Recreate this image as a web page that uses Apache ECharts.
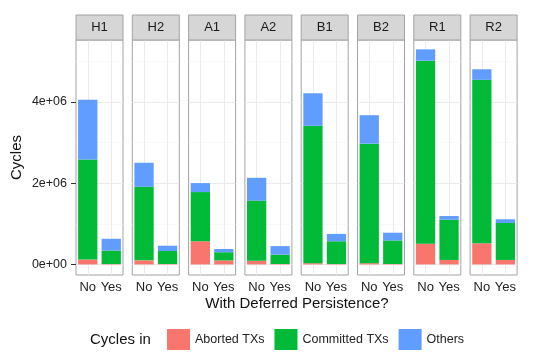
<!DOCTYPE html>
<html>
<head>
<meta charset="utf-8">
<script src="https://cdn.jsdelivr.net/npm/echarts@6/dist/echarts.min.js"></script>
<style>html,body{margin:0;padding:0;background:#fff}#c{width:539px;height:362px}</style>
</head>
<body>
<div id="c"></div>
<script>
// ---- data (values in cycles) ----
const facets = ['H1', 'H2', 'A1', 'A2', 'B1', 'B2', 'R1', 'R2'];
const persistence = ['No', 'Yes'];
const seriesNames = ['Aborted TXs', 'Committed TXs', 'Others'];
const aborted = [[0.12e6, 0.01e6], [0.10e6, 0.01e6], [0.57e6, 0.10e6], [0.09e6, 0.01e6],
                 [0.03e6, 0.01e6], [0.03e6, 0.01e6], [0.51e6, 0.11e6], [0.52e6, 0.11e6]];
const committed = [[2.46e6, 0.33e6], [1.81e6, 0.32e6], [1.21e6, 0.20e6], [1.48e6, 0.23e6],
                   [3.38e6, 0.56e6], [2.94e6, 0.58e6], [4.50e6, 0.99e6], [4.02e6, 0.91e6]];
const others = [[1.47e6, 0.29e6], [0.59e6, 0.13e6], [0.22e6, 0.08e6], [0.56e6, 0.21e6],
                [0.80e6, 0.18e6], [0.70e6, 0.19e6], [0.28e6, 0.09e6], [0.26e6, 0.09e6]];
const yTicks = [0, 2e6, 4e6];
const yTickLabels = ['0e+00', '2e+06', '4e+06'];
const yMinor = [1e6, 3e6, 5e6];

// ---- layout / style ----
const colors = ['#F8766D', '#00BA38', '#619CFF'];
const panelLeft0 = 76, panelStep = 56.3, panelW = 47;
const panelTop = 40, panelH = 235, stripH = 25;
const yMin = -0.26e6, yMax = 5.52e6;
const borderCol = '#A3A3A3';
const fontFam = 'Liberation Sans, Arial';
const allData = [aborted, committed, others];

const grids = [], xAxes = [], yAxes = [], series = [], graphics = [];
facets.forEach((f, i) => {
  const left = panelLeft0 + i * panelStep;
  grids.push({left: left, top: panelTop, width: panelW, height: panelH,
    show: true, backgroundColor: '#fff', borderColor: borderCol, borderWidth: 1, containLabel: false});
  xAxes.push({type: 'category', gridIndex: i, data: persistence,
    axisLine: {show: false},
    axisTick: {show: true, alignWithLabel: true, length: 4, lineStyle: {color: '#333'}},
    axisLabel: {color: '#222', fontSize: 13, margin: 6, fontFamily: fontFam, interval: 0},
    splitLine: {show: false}});
  yAxes.push({type: 'value', gridIndex: i, min: yMin, max: yMax,
    axisLine: {show: false},
    axisTick: {show: i === 0, length: 5, customValues: yTicks, lineStyle: {color: '#333'}},
    axisLabel: {show: i === 0, color: '#222', fontSize: 12.5, margin: 9, fontFamily: fontFam,
      customValues: yTicks, formatter: v => yTickLabels[yTicks.indexOf(v)] ?? ''},
    splitLine: {show: false},
    name: i === 0 ? 'Cycles' : '', nameLocation: 'middle', nameGap: 52, nameRotate: 90,
    nameTextStyle: {fontSize: 15, color: '#111', fontFamily: fontFam}});
  allData.forEach((arr, k) => {
    const s = {name: seriesNames[k], type: 'bar', stack: 'f' + i, xAxisIndex: i, yAxisIndex: i,
      data: arr[i], barCategoryGap: '18%', itemStyle: {color: colors[k]}, z: 3, silent: true};
    if (k === 0) {
      s.markLine = {silent: true, symbol: 'none', z: 1, label: {show: false},
        data: [
          ...yTicks.map(v => ({yAxis: v, lineStyle: {color: '#EBEBEB', width: 1, type: 'solid'}})),
          ...yMinor.map(v => ({yAxis: v, lineStyle: {color: '#F5F5F5', width: 0.6, type: 'solid'}})),
          ...persistence.map(c => ({xAxis: c, lineStyle: {color: '#EBEBEB', width: 1, type: 'solid'}}))
        ]};
    }
    series.push(s);
  });
  graphics.push({type: 'rect', shape: {x: left, y: panelTop - stripH, width: panelW, height: stripH},
    style: {fill: '#D6D6D6', stroke: borderCol, lineWidth: 1}, z: 10});
  graphics.push({type: 'text', x: left + panelW / 2, y: panelTop - stripH / 2,
    style: {text: f, fill: '#1A1A1A', font: '13px ' + fontFam, align: 'center', verticalAlign: 'middle'}, z: 11});
});

graphics.push({type: 'text', x: 297, y: 304,
  style: {text: 'With Deferred Persistence?', fill: '#111', font: '15px ' + fontFam, align: 'center', verticalAlign: 'middle'}});
graphics.push({type: 'text', x: 90, y: 340,
  style: {text: 'Cycles in', fill: '#111', font: '15px ' + fontFam, align: 'left', verticalAlign: 'middle'}});

const option = {
  animation: false,
  grid: grids, xAxis: xAxes, yAxis: yAxes, series: series, graphic: graphics,
  legend: {data: seriesNames, left: 167, top: 329, padding: 0, itemWidth: 23, itemHeight: 21, itemGap: 10,
    icon: 'rect', selectedMode: false,
    textStyle: {fontSize: 12.5, color: '#222', fontFamily: fontFam}}
};
echarts.init(document.getElementById('c')).setOption(option);
</script>
</body>
</html>
